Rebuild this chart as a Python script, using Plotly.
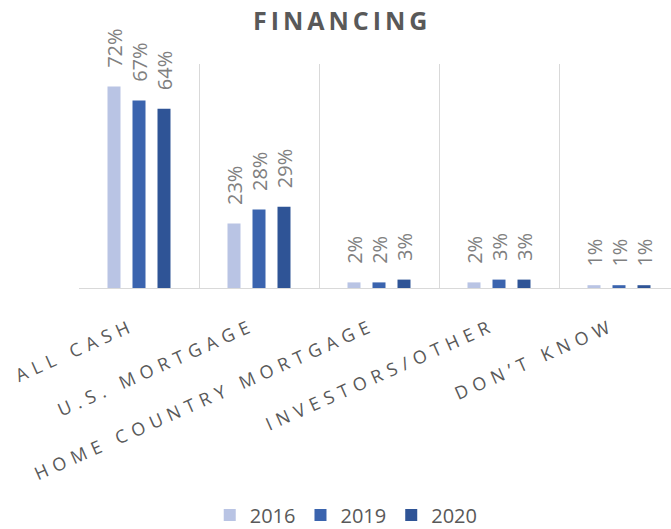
import plotly.graph_objects as go

# Share of purchases by financing method, per survey year
categories = ["ALL CASH", "U.S. MORTGAGE", "HOME COUNTRY MORTGAGE",
              "INVESTORS/OTHER", "DON’T KNOW"]
years = ["2016", "2019", "2020"]
values_2016 = [72, 23, 2, 2, 1]
values_2019 = [67, 28, 2, 3, 1]
values_2020 = [64, 29, 3, 3, 1]

series = [values_2016, values_2019, values_2020]
colors = ["#b9c4e4", "#3b64ae", "#2f5496"]

FONT = "Open Sans"
PAD = "\u00a0" * 3  # lifts the rotated value labels off the bar tops

fig = go.Figure()
for year, vals, col in zip(years, series, colors):
    fig.add_trace(go.Bar(
        x=categories,
        y=vals,
        name=year,
        marker=dict(color=col, line=dict(width=0)),
        texttemplate=PAD + "%{y}%",
        textposition="outside",
        textangle=-90,
        constraintext="none",
        cliponaxis=False,
        textfont=dict(family=FONT, size=20, color="#808080"),
        hoverinfo="skip",
    ))

fig.update_layout(
    width=671,
    height=529,
    margin=dict(l=79, r=0, t=64, b=241),
    paper_bgcolor="white",
    plot_bgcolor="white",
    barmode="group",
    bargap=0.375,
    bargroupgap=0.48,
    title=dict(
        text="<b>FINANCING</b>",
        font=dict(family=FONT, size=25, color="#595959"),
        x=0.51, xref="container", xanchor="center",
        y=1 - 21 / 529, yref="container", yanchor="middle",
    ),
    legend=dict(
        orientation="h",
        xref="container", yref="container",
        x=0.516, xanchor="center",
        y=14 / 529, yanchor="middle",
        font=dict(family=FONT, size=20, color="#595959"),
        traceorder="normal",
        itemwidth=30,
    ),
    showlegend=True,
)

fig.update_xaxes(
    type="category",
    range=[-0.5, -0.5 + 592 / 120],
    tickson="boundaries",
    showgrid=True,
    gridcolor="#d9d9d9",
    gridwidth=1,
    showline=True,
    linecolor="#d9d9d9",
    linewidth=1,
    ticks="",
    tickangle=-24,
    ticklabelstandoff=20,
    ticklabelshift=-6,
    tickfont=dict(family=FONT, size=18, color="#595959"),
    fixedrange=True,
)
fig.update_yaxes(
    range=[0, 80],
    visible=False,
    showgrid=False,
    zeroline=False,
    fixedrange=True,
)

# Spaced-out lettering for the category labels and the title
css = ".xtick text{letter-spacing:6px}.gtitle{letter-spacing:4px}"
post = ("var s=document.createElement('style');s.textContent='" + css +
        "';document.head.appendChild(s);")

fig.write_html("out.html", post_script=post, config={"displayModeBar": False})
